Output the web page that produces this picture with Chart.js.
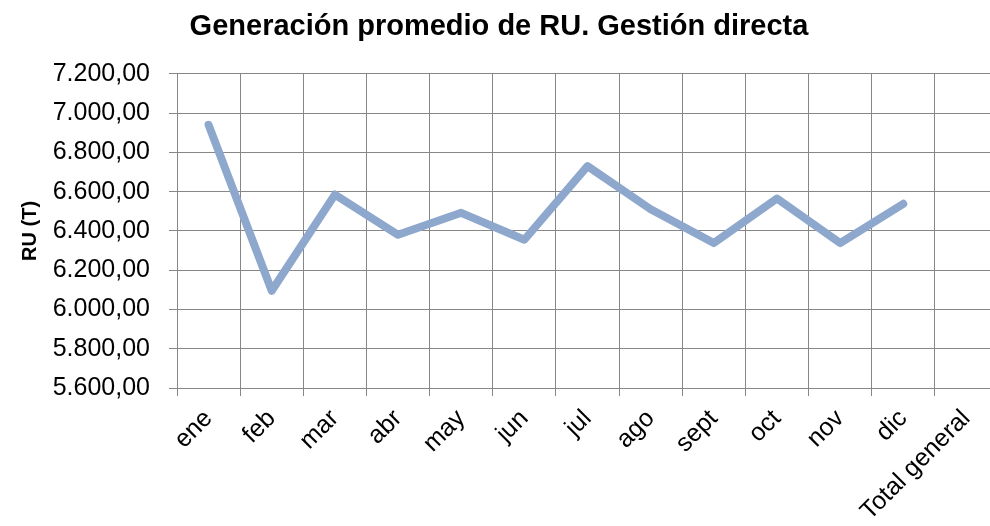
<!DOCTYPE html>
<html>
<head>
<meta charset="utf-8">
<script src="https://cdn.jsdelivr.net/npm/chart.js@4"></script>
<style>
  html, body { margin: 0; padding: 0; background: #fff; overflow: hidden; }
  #wrap { width: 1000px; height: 526px; position: relative; }
</style>
</head>
<body>
<div id="wrap"><canvas id="chart"></canvas></div>
<script>
// Data
const months = ['ene', 'feb', 'mar', 'abr', 'may', 'jun', 'jul', 'ago', 'sept', 'oct', 'nov', 'dic', 'Total general'];
const ruValues = [6940, 6095, 6585, 6380, 6492, 6355, 6730, 6510, 6338, 6565, 6338, 6538, null];
const yMin = 5600;
const yMax = 7200;
const yStep = 200;

const GRID = '#878787';
const LINE = '#8ea8cd';
const FONT = "'Liberation Sans', Arial, sans-serif";

// 7200 -> "7.200,00"
function fmt(v) {
    const [i, d] = Number(v).toFixed(2).split('.');
    return i.replace(/\B(?=(\d{3})+(?!\d))/g, '.') + ',' + d;
}

Chart.defaults.font.family = FONT;
Chart.defaults.color = '#000';

const ctx = document.getElementById('chart').getContext('2d');
new Chart(ctx, {
    type: 'line',
    data: {
        labels: months,
        datasets: [{
            data: ruValues,
            borderColor: LINE,
            borderWidth: 8,
            borderCapStyle: 'round',
            borderJoinStyle: 'round',
            pointRadius: 0,
            tension: 0,
            fill: false
        }]
    },
    options: {
        responsive: true,
        maintainAspectRatio: false,
        animation: false,
        layout: { padding: { left: 0, right: 2, top: 0, bottom: 0 } },
        plugins: {
            legend: { display: false },
            tooltip: { enabled: false },
            title: {
                display: true,
                text: 'Generación promedio de RU. Gestión directa',
                color: '#000',
                font: { size: 29, weight: 'bold' },
                padding: { top: 10, bottom: 29 }
            }
        },
        scales: {
            x: {
                offset: true,
                grid: { offset: true, color: GRID, tickColor: GRID, tickLength: 8, drawTicks: true },
                border: { color: GRID },
                ticks: {
                    autoSkip: false,
                    maxRotation: 45,
                    minRotation: 45,
                    padding: 8,
                    color: '#000',
                    font: { size: 25 }
                },
                afterFit: s => { s.height = 138; }
            },
            y: {
                min: yMin,
                max: yMax,
                grid: { color: GRID, tickColor: GRID, tickLength: 8 },
                border: { color: GRID },
                ticks: {
                    stepSize: yStep,
                    padding: 19,
                    color: '#000',
                    font: { size: 25 },
                    callback: v => fmt(v)
                },
                title: {
                    display: true,
                    text: 'RU (T)',
                    color: '#000',
                    font: { size: 20, weight: 'bold' },
                    padding: { top: 18, bottom: 0 }
                },
                afterFit: s => { s.width = 177; }
            }
        }
    }
});
</script>
</body>
</html>
